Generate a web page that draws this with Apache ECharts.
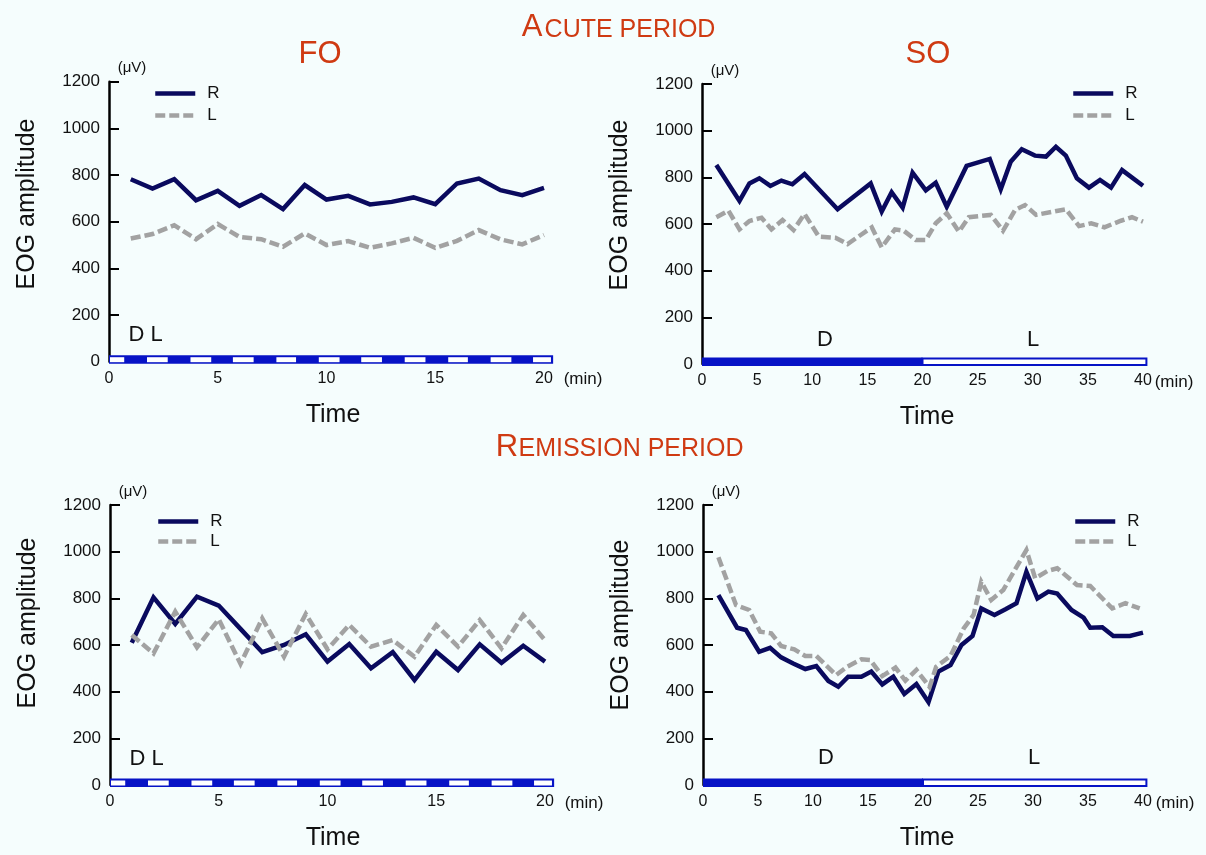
<!DOCTYPE html>
<html>
<head>
<meta charset="utf-8">
<title>EOG amplitude</title>
<script src="https://cdn.jsdelivr.net/npm/echarts@6.0.0/dist/echarts.min.js"></script>
<style>
  html, body { margin: 0; padding: 0; background: #f5fdfd; }
  #chart { width: 1206px; height: 855px; }
</style>
</head>
<body>
<div id="chart"></div>
<script>
// FO panels: one sample per minute
const foTime = [1, 2, 3, 4, 5, 6, 7, 8, 9, 10, 11, 12, 13, 14, 15, 16, 17, 18, 19, 20]
const foAcuteR = [782, 742, 782, 692, 732, 668, 714, 654, 757, 695, 711, 674, 685, 704, 675, 764, 785, 735, 714, 745]
const foAcuteL = [528, 547, 585, 525, 590, 535, 525, 493, 550, 500, 517, 488, 507, 531, 488, 518, 564, 524, 503, 543]
const foRemR = [610, 804, 690, 807, 769, 669, 569, 600, 646, 529, 604, 500, 569, 450, 571, 493, 603, 524, 597, 529]
const foRemL = [643, 564, 743, 590, 710, 519, 714, 550, 733, 582, 686, 593, 621, 550, 686, 593, 707, 586, 729, 621]

// SO panels: [min, µV]
const soAcuteR = [[1.3, 853], [3.4, 699], [4.3, 774], [5.2, 796], [6.2, 763], [7.2, 786], [8.2, 770], [9.3, 814],
  [12.3, 663], [15.3, 774], [16.3, 653], [17.2, 736], [18.2, 670], [19.1, 820], [20.3, 744], [21.2, 777],
  [22.2, 674], [24.0, 849], [26.1, 879], [27.1, 749], [28.0, 867], [29.0, 920], [30.2, 893], [31.2, 889],
  [32.1, 931], [33.0, 893], [34.0, 796], [35.1, 756], [36.1, 789], [37.1, 756], [38.1, 831], [40.0, 764]]
const soAcuteL = [[1.3, 629], [2.4, 657], [3.4, 577], [4.3, 613], [5.4, 627], [6.3, 577], [7.3, 617], [8.3, 574],
  [9.3, 643], [10.6, 546], [12.1, 541], [13.2, 514], [15.4, 586], [16.3, 500], [17.5, 577], [18.3, 571],
  [19.4, 531], [20.3, 531], [21.2, 603], [22.2, 646], [23.3, 567], [24.2, 629], [26.2, 639], [27.3, 571],
  [28.4, 660], [29.3, 681], [30.3, 639], [33.0, 663], [34.2, 591], [35.3, 603], [36.5, 586], [38.0, 614],
  [39.0, 629], [40.0, 610]]
const soRemR = [[1.4, 814], [3.1, 674], [3.9, 664], [5.1, 571], [6.1, 588], [7.1, 547], [8.2, 521], [9.3, 497],
  [10.3, 510], [11.4, 446], [12.3, 421], [13.2, 464], [14.4, 464], [15.3, 486], [16.3, 431], [17.3, 464],
  [18.3, 390], [19.4, 433], [20.5, 355], [21.4, 486], [22.5, 514], [23.5, 600], [24.5, 639], [25.3, 757],
  [26.5, 729], [27.5, 753], [28.5, 779], [29.4, 914], [30.4, 800], [31.4, 829], [32.2, 821], [33.5, 750],
  [34.6, 717], [35.2, 674], [36.3, 676], [37.3, 639], [38.8, 639], [40.0, 653]]
const soRemL = [[1.4, 976], [3.0, 771], [4.2, 750], [5.2, 657], [6.2, 650], [7.1, 596], [8.3, 581], [9.3, 553],
  [10.3, 553], [12.1, 471], [13.1, 507], [14.4, 539], [15.2, 536], [16.3, 467], [17.5, 503], [18.4, 447],
  [19.4, 493], [20.6, 420], [21.2, 507], [22.5, 553], [23.7, 671], [24.6, 729], [25.3, 871], [26.2, 793],
  [27.3, 836], [29.4, 1007], [30.2, 886], [31.3, 917], [32.2, 929], [34.0, 857], [35.2, 853], [37.2, 757],
  [38.4, 779], [39.7, 757]]

// dark / light schedule under the axis: [from, to, kind] kind 0 = dark, 1 = light, 2 = light slot inside dark bar
const foBar = [[0, 20.42, 0], [0, 0.7, 2], [1.7, 2.7, 2], [3.7, 4.7, 2], [5.65, 6.65, 2], [7.65, 8.6, 2],
  [9.6, 10.6, 2], [11.55, 12.55, 2], [13.55, 14.55, 2], [15.55, 16.5, 2], [17.5, 18.5, 2], [19.45, 20.32, 2]]
const soBar = [[0, 20, 0], [20, 40.4, 1]]

const yTicks = [0, 200, 400, 600, 800, 1000, 1200]

const red = '#cf3a12'
const navy = '#0a0a5e'
const grey = '#a2a2a2'
const barBlue = '#0713c6'
const font = 'Liberation Sans, Arial, Helvetica, sans-serif'

const chart = echarts.init(document.getElementById('chart'))

const grids = [
  { left: 109, top: 81.7, width: 435, height: 280 },
  { left: 702, top: 84, width: 441, height: 280 },
  { left: 110, top: 505, width: 435, height: 280 },
  { left: 703, top: 505, width: 440, height: 280 }
]

function xAxis (i, max) {
  return {
    type: 'value', gridIndex: i, min: 0, max: max, interval: 5,
    axisLine: { show: false }, axisTick: { show: false }, splitLine: { show: false },
    axisLabel: { fontSize: 16, color: '#111', fontFamily: font, margin: 9 }
  }
}

function yAxis (i) {
  return {
    type: 'value', gridIndex: i, min: yTicks[0], max: yTicks[yTicks.length - 1], interval: yTicks[1] - yTicks[0],
    axisLine: { show: true, lineStyle: { color: '#000', width: 2.5 } },
    axisTick: { show: true, inside: true, length: 10, lineStyle: { color: '#000', width: 2 } },
    splitLine: { show: false },
    axisLabel: { fontSize: 17, color: '#111', fontFamily: font, margin: 9, formatter: v => String(v) }
  }
}

function line (name, data, i) {
  const isR = name === 'R'
  return {
    name: name, type: 'line', xAxisIndex: i, yAxisIndex: i, data: data,
    symbol: 'none', animation: false, z: 3,
    itemStyle: { color: isR ? navy : grey },
    lineStyle: isR
      ? { color: navy, width: 4.5, join: 'miter', miterLimit: 4 }
      : { color: grey, width: 4.5, type: [10, 4], cap: 'butt', join: 'miter', miterLimit: 4 }
  }
}

function barItem (params, api) {
  const p0 = api.coord([api.value(0), 0])
  const p1 = api.coord([api.value(1), 0])
  const kind = api.value(2)
  const w = p1[0] - p0[0]
  if (kind === 0) {
    return { type: 'rect', shape: { x: p0[0], y: p0[1] - 6.5, width: w, height: 8.5 }, style: { fill: barBlue } }
  }
  if (kind === 1) {
    return { type: 'rect', shape: { x: p0[0], y: p0[1] - 5.5, width: w - 1, height: 6.5 }, style: { fill: '#fff', stroke: barBlue, lineWidth: 2 } }
  }
  return { type: 'rect', shape: { x: p0[0] + 1, y: p0[1] - 4.5, width: w - 1, height: 5 }, style: { fill: '#fff' } }
}

function bar (data, i) {
  return {
    type: 'custom', xAxisIndex: i, yAxisIndex: i, data: data, renderItem: barItem,
    encode: { x: [0, 1], y: 2 }, clip: false, silent: true, animation: false, z: 4
  }
}

function legend (left, top, gap) {
  return {
    data: ['R', 'L'], orient: 'vertical', left: left, top: top, padding: 0,
    itemWidth: 40, itemHeight: 14, itemGap: gap, selectedMode: false,
    itemStyle: { color: 'transparent', borderWidth: 0, opacity: 0 },
    lineStyle: { width: 4.5 },
    textStyle: { fontSize: 17, color: '#111', fontFamily: font, padding: [0, 0, 0, 7] }
  }
}

function txt (text, x, y, size, extra) {
  return Object.assign({
    type: 'text', x: x, y: y, silent: true,
    style: Object.assign({
      text: text, font: size + 'px ' + font, fill: '#111',
      textAlign: 'center', textVerticalAlign: 'middle'
    }, (extra && extra.style) || {})
  }, extra && extra.rotation ? { rotation: extra.rotation } : {})
}

const graphics = [
  txt('A', 532, 27.5, 31, { style: { fill: red } }),
  txt('CUTE PERIOD', 630, 29.7, 25, { style: { fill: red } }),
  txt('R', 507, 447, 31, { style: { fill: red } }),
  txt('EMISSION PERIOD', 631, 449, 25, { style: { fill: red } }),
  txt('FO', 320, 54.7, 31, { style: { fill: red } }),
  txt('SO', 928, 54.7, 31, { style: { fill: red } })
]
const panelText = [
  { x: 109, y: 81.7, mid: 204, time: 333 },
  { x: 702, y: 84, mid: 205, time: 927 },
  { x: 110, y: 505, mid: 623, time: 333 },
  { x: 703, y: 505, mid: 625, time: 927 }
]
panelText.forEach(function (p, i) {
  const right = i % 2 === 1
  const base = p.y + 280
  graphics.push(txt('(μV)', p.x + 23, p.y - 13.5, 15))
  graphics.push(txt('EOG amplitude', p.x - 82, p.mid, 25, { rotation: Math.PI / 2 }))
  graphics.push(txt('Time', p.time, base + 53, 25))
  graphics.push(txt('(min)', right ? p.x + 472 : p.x + 474, base + 18, 17))
  if (right) {
    graphics.push(txt('D', p.x + 123, base - 24.5 - (i === 3 ? 3 : 0), 22))
    graphics.push(txt('L', p.x + 331, base - 24.5 - (i === 3 ? 3 : 0), 22))
  } else {
    graphics.push(txt('D L', p.x + 36.5, base - 26.5, 22))
  }
})

chart.setOption({
  backgroundColor: '#f5fdfd',
  animation: false,
  grid: grids,
  xAxis: [xAxis(0, 20), xAxis(1, 40), xAxis(2, 20), xAxis(3, 40)],
  yAxis: [yAxis(0), yAxis(1), yAxis(2), yAxis(3)],
  legend: [legend(153, 85, 5), legend(1071, 85, 5), legend(156, 513, 3), legend(1073, 513, 3)],
  series: [
    line('R', foTime.map((t, k) => [t, foAcuteR[k]]), 0),
    line('L', foTime.map((t, k) => [t, foAcuteL[k]]), 0),
    line('R', soAcuteR, 1),
    line('L', soAcuteL, 1),
    line('R', foTime.map((t, k) => [t, foRemR[k]]), 2),
    line('L', foTime.map((t, k) => [t, foRemL[k]]), 2),
    line('R', soRemR, 3),
    line('L', soRemL, 3),
    bar(foBar, 0),
    bar(soBar, 1),
    bar(foBar, 2),
    bar(soBar, 3)
  ],
  graphic: graphics
})
</script>
</body>
</html>
